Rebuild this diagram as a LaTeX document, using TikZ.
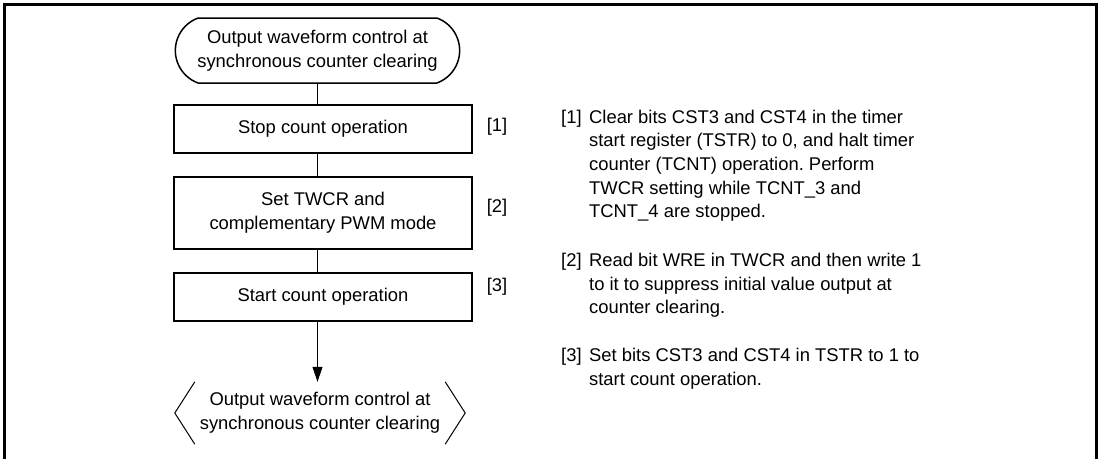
\documentclass[tikz,border=0pt]{standalone}
\usepackage{fontspec}
\setmainfont{Liberation Sans}
\usetikzlibrary{arrows.meta, positioning, calc, shapes.misc}
\tikzset{
  term/.style={draw, rounded rectangle, rounded rectangle arc length=140, line width=1.5pt,
    minimum width=291pt, minimum height=65pt, align=center},
  stepbox/.style={draw, line width=2pt, minimum width=298pt, minimum height=#1, align=center},
  stepbox/.default=48pt,
  conn/.style={line width=1pt},
  arr/.style={line width=1pt, -{Triangle[length=15pt, width=10pt]}},
  note/.style={anchor=base west, inner sep=0pt},
}
\newcommand{\flowfont}{\fontsize{18.4}{23.6}\selectfont}
\frenchspacing

\begin{document}
\begin{tikzpicture}[x=1pt, y=-1pt, font=\flowfont]
  \useasboundingbox (0,0) rectangle (1101,459);
  % frame, open at the bottom
  \draw[line width=3pt] (4.7,459) -- (4.7,4.5) -- (1096,4.5) -- (1096,459);

  % flow
  \node[term] (start) at (317.5,50.5) {Output waveform control at\\synchronous counter clearing};
  \node[stepbox] (stop) at (323,129) {Stop count operation};
  \node[stepbox=72pt] (set) at (323,213) {Set TWCR and\\complementary PWM mode};
  \node[stepbox] (run) at (323,297) {Start count operation};
  \node[minimum width=290pt, minimum height=62pt, align=center] (end) at (320,413)
    {Output waveform control at\\synchronous counter clearing};
  \draw[line width=1pt] ($(end.north west)+(20,0)$) -- (end.west) -- ($(end.south west)+(20,0)$);
  \draw[line width=1pt] ($(end.north east)+(-20,0)$) -- (end.east) -- ($(end.south east)+(-20,0)$);

  \draw[conn] (start.south) -- (start.south |- stop.north);
  \draw[conn] (start.south |- stop.south) -- (start.south |- set.north);
  \draw[conn] (start.south |- set.south) -- (start.south |- run.north);
  \draw[arr] (start.south |- run.south) -- (start.south |- end.north);

  % step marks
  \node (m1) at (497,127) {[1]};
  \node (m2) at (497,208) {[2]};
  \node (m3) at (497,287) {[3]};

  % notes
  \node[note] (n1) at (561,123.3) {\begin{tabular}[t]{@{}l@{\hspace{7.5pt}}l@{}}
    [1] & Clear bits CST3 and CST4 in the timer\\
        & start register (TSTR) to 0, and halt timer\\
        & counter (TCNT) operation. Perform\\
        & TWCR setting while TCNT\_3 and\\
        & TCNT\_4 are stopped.
  \end{tabular}};
  \node[note] (n2) at (561,266.6) {\begin{tabular}[t]{@{}l@{\hspace{7.5pt}}l@{}}
    [2] & Read bit WRE in TWCR and then write 1\\
        & to it to suppress initial value output at\\
        & counter clearing.
  \end{tabular}};
  \node[note] (n3) at (561,361.6) {\begin{tabular}[t]{@{}l@{\hspace{7.5pt}}l@{}}
    [3] & Set bits CST3 and CST4 in TSTR to 1 to\\
        & start count operation.
  \end{tabular}};
\end{tikzpicture}
\end{document}
